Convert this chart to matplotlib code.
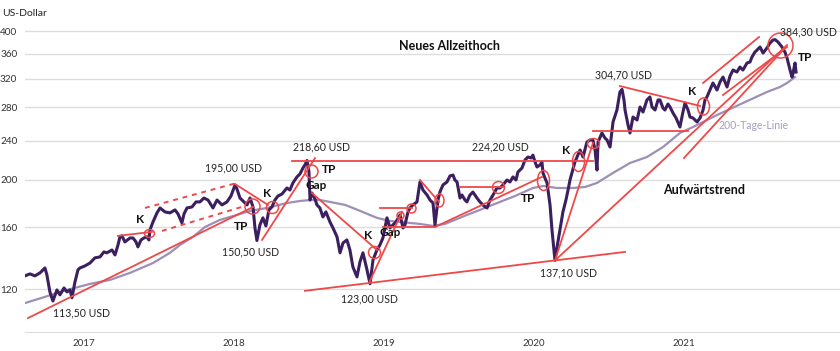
import matplotlib.pyplot as plt
from matplotlib.path import Path
from matplotlib.transforms import Affine2D
from matplotlib.ticker import NullLocator, FixedFormatter

plt.rcParams['font.family'] = ['Lato', 'DejaVu Sans']

# price (decimal year, USD)
price_t = [2016.607, 2016.64, 2016.673, 2016.707, 2016.74, 2016.753, 2016.773, 2016.793, 2016.82, 2016.84,
           2016.867, 2016.887, 2016.907, 2016.92, 2016.94, 2016.96, 2016.973, 2017.007, 2017.04, 2017.073,
           2017.107, 2017.133, 2017.153, 2017.187, 2017.207, 2017.227, 2017.24, 2017.253, 2017.273, 2017.307,
           2017.327, 2017.347, 2017.36, 2017.38, 2017.4, 2017.42, 2017.433, 2017.44, 2017.46, 2017.487,
           2017.507, 2017.54, 2017.573, 2017.607, 2017.627, 2017.653, 2017.667, 2017.687, 2017.72, 2017.747,
           2017.773, 2017.8, 2017.827, 2017.847, 2017.86, 2017.887, 2017.92, 2017.953, 2017.98, 2018.007,
           2018.02, 2018.04, 2018.067, 2018.087, 2018.107, 2018.127, 2018.14, 2018.153, 2018.173, 2018.193,
           2018.213, 2018.233, 2018.253, 2018.273, 2018.293, 2018.32, 2018.353, 2018.373, 2018.393, 2018.42,
           2018.44, 2018.46, 2018.473, 2018.487, 2018.5, 2018.507, 2018.52, 2018.54, 2018.553, 2018.573,
           2018.593, 2018.613, 2018.64, 2018.66, 2018.687, 2018.707, 2018.727, 2018.753, 2018.773, 2018.793,
           2018.82, 2018.84, 2018.86, 2018.887, 2018.907, 2018.927, 2018.953, 2018.973, 2018.993, 2019.02,
           2019.04, 2019.06, 2019.08, 2019.107, 2019.127, 2019.14, 2019.16, 2019.173, 2019.193, 2019.22,
           2019.24, 2019.26, 2019.287, 2019.307, 2019.327, 2019.34, 2019.36, 2019.373, 2019.393, 2019.42,
           2019.44, 2019.46, 2019.473, 2019.487, 2019.507, 2019.52, 2019.54, 2019.553, 2019.573, 2019.593,
           2019.62, 2019.64, 2019.667, 2019.687, 2019.707, 2019.727, 2019.753, 2019.773, 2019.793, 2019.82,
           2019.84, 2019.86, 2019.88, 2019.893, 2019.92, 2019.94, 2019.96, 2019.98, 2019.993, 2020.007,
           2020.02, 2020.04, 2020.053, 2020.06, 2020.073, 2020.087, 2020.107, 2020.12, 2020.133, 2020.14,
           2020.153, 2020.173, 2020.193, 2020.213, 2020.227, 2020.24, 2020.253, 2020.273, 2020.293, 2020.307,
           2020.327, 2020.353, 2020.373, 2020.393, 2020.407, 2020.42, 2020.427, 2020.453, 2020.473, 2020.487,
           2020.507, 2020.527, 2020.553, 2020.573, 2020.587, 2020.6, 2020.607, 2020.627, 2020.64, 2020.66,
           2020.687, 2020.707, 2020.727, 2020.753, 2020.773, 2020.787, 2020.807, 2020.827, 2020.84, 2020.86,
           2020.873, 2020.893, 2020.907, 2020.927, 2020.947, 2020.973, 2020.993, 2021.007, 2021.027, 2021.04,
           2021.06, 2021.087, 2021.107, 2021.127, 2021.14, 2021.153, 2021.173, 2021.193, 2021.22, 2021.24,
           2021.26, 2021.287, 2021.307, 2021.327, 2021.353, 2021.373, 2021.393, 2021.42, 2021.44, 2021.453,
           2021.473, 2021.487, 2021.507, 2021.527, 2021.553, 2021.573, 2021.593, 2021.607, 2021.627, 2021.653,
           2021.673, 2021.687, 2021.707, 2021.72, 2021.727, 2021.74, 2021.747]
price_v = [127.6, 128.8, 127.6, 129.4, 132.4, 128.2, 118.4, 113.5, 119.5, 116.8,
           120.6, 118.4, 119.5, 115.2, 124.0, 131.2, 132.4, 133.7, 135.5, 138.8,
           139.4, 142.7, 142.1, 144.0, 140.7, 147.4, 153.1, 153.8, 149.5, 152.3,
           152.3, 149.5, 146.1, 150.9, 152.3, 153.1, 150.9, 158.1, 164.1, 171.2,
           175.2, 172.0, 171.2, 173.6, 170.4, 163.4, 170.4, 175.2, 176.0, 180.2,
           180.2, 183.5, 181.8, 177.7, 175.2, 181.8, 177.7, 180.2, 185.2, 195.0,
           191.4, 183.5, 180.2, 177.7, 183.5, 176.0, 159.6, 150.5, 161.9, 167.3,
           161.1, 173.6, 176.0, 181.8, 185.2, 187.0, 192.3, 190.5, 196.9, 202.5,
           205.3, 211.1, 214.1, 218.6, 207.2, 181.8, 187.8, 182.7, 177.7, 175.2,
           168.0, 172.0, 164.1, 159.6, 153.1, 142.1, 148.8, 150.9, 144.0, 133.0,
           127.0, 136.2, 142.1, 131.2, 123.0, 137.5, 144.0, 147.4, 152.3, 167.3,
           159.6, 161.9, 164.1, 169.6, 159.6, 161.9, 172.0, 175.2, 177.7, 180.2,
           197.8, 190.5, 186.1, 181.8, 179.3, 161.9, 181.8, 188.7, 195.0, 197.8,
           203.4, 204.3, 199.6, 197.8, 183.5, 186.1, 181.8, 180.2, 186.1, 188.7,
           183.5, 180.2, 176.8, 175.2, 181.8, 186.1, 192.3, 192.3, 195.0, 199.6,
           197.8, 202.5, 199.6, 207.2, 211.1, 219.1, 222.2, 221.2, 224.2, 217.1,
           212.1, 214.1, 217.1, 206.3, 201.5, 196.9, 177.7, 158.1, 144.0, 137.1,
           145.4, 158.1, 172.0, 181.8, 190.5, 199.6, 206.3, 217.1, 224.3, 229.6,
           222.2, 238.3, 240.6, 240.6, 229.6, 209.1, 238.3, 248.6, 242.8, 240.6,
           232.8, 261.7, 276.7, 301.0, 304.7, 290.0, 276.7, 258.0, 248.6, 267.8,
           264.1, 280.6, 274.1, 290.0, 294.1, 280.6, 276.7, 290.0, 290.0, 279.3,
           276.7, 284.6, 280.6, 272.8, 266.6, 255.6, 274.1, 285.9, 276.7, 267.8,
           266.6, 261.7, 266.6, 276.7, 290.0, 294.1, 303.8, 313.9, 303.8, 315.3,
           322.7, 308.1, 324.3, 333.5, 330.4, 338.2, 333.5, 344.6, 346.2, 354.3,
           362.7, 366.1, 371.3, 361.0, 369.6, 378.2, 383.6, 384.3, 380.0, 371.3,
           362.7, 352.7, 333.5, 322.7, 328.8, 344.6, 330.4]

# 200-day line
ma_t = [2016.607, 2016.74, 2016.887, 2017.04, 2017.173, 2017.307, 2017.46, 2017.573, 2017.64, 2017.727,
        2017.807, 2017.907, 2018.02, 2018.107, 2018.22, 2018.353, 2018.44, 2018.507, 2018.573, 2018.64,
        2018.74, 2018.793, 2018.873, 2018.953, 2019.04, 2019.107, 2019.24, 2019.327, 2019.407, 2019.473,
        2019.553, 2019.64, 2019.773, 2019.873, 2019.993, 2020.06, 2020.153, 2020.26, 2020.34, 2020.42,
        2020.527, 2020.64, 2020.753, 2020.86, 2020.973, 2021.06, 2021.22, 2021.393, 2021.553, 2021.64,
        2021.687, 2021.74]
ma_v = [112.4, 115.7, 119.5, 122.9, 125.2, 129.4, 135.5, 142.1, 147.4, 153.1,
        160.3, 165.7, 169.6, 172.8, 175.2, 179.3, 181.0, 181.8, 181.8, 180.2,
        177.7, 175.2, 171.2, 167.3, 164.9, 164.1, 162.6, 161.1, 162.6, 165.7,
        169.6, 173.6, 180.2, 185.2, 192.3, 194.1, 192.3, 192.3, 193.2, 196.9,
        206.3, 216.1, 222.2, 232.8, 248.6, 255.6, 270.3, 285.9, 301.0, 308.1,
        313.9, 322.7]

year_ticks = [2017, 2018, 2019, 2020, 2021]
price_ticks = [120, 160, 200, 240, 280, 320, 360, 400]

# trend lines (t0, v0, t1, v1)
trend_lines = [
    (2016.627, 104.8, 2018.127, 176.0),
    (2017.227, 153.8, 2017.453, 156.7),
    (2018.007, 195.9, 2018.227, 177.7),
    (2018.187, 150.9, 2018.54, 221.0),
    (2018.387, 218.6, 2020.393, 218.6),
    (2018.52, 187.8, 2018.953, 144.0),
    (2018.9, 123.4, 2019.12, 172.0),
    (2018.973, 175.2, 2019.187, 175.2),
    (2018.993, 160.3, 2019.34, 160.3),
    (2019.24, 199.6, 2019.367, 180.2),
    (2019.34, 160.3, 2020.053, 202.5),
    (2019.507, 193.2, 2019.793, 193.2),
    (2018.473, 119.0, 2020.607, 142.7),
    (2020.14, 137.1, 2020.393, 237.2),
    (2020.14, 137.1, 2021.687, 374.7),
    (2021.0, 221.2, 2021.66, 366.1),
    (2020.573, 309.5, 2021.107, 282.0),
    (2020.393, 250.5, 2021.027, 250.5),
    (2021.127, 313.9, 2021.5, 389.0),
    (2021.26, 296.8, 2021.687, 371.3),
]
dashed_lines = [
    (2017.407, 175.2, 2018.02, 196.9),
    (2017.52, 157.4, 2018.073, 176.8),
]
# circles: t, v, width px, height px
circles = [
    (2017.433, 156.0, 10, 8), (2018.12, 176.8, 15, 15), (2018.253, 176.0, 12, 12),
    (2018.513, 208.2, 13, 13), (2018.933, 142.7, 12, 12), (2019.107, 169.6, 7, 7),
    (2019.18, 175.2, 9, 9), (2019.367, 181.8, 9, 13), (2019.76, 193.2, 12, 12),
    (2020.06, 199.6, 12, 20), (2020.293, 218.6, 12, 20), (2020.393, 237.2, 12, 10),
    (2021.127, 282.0, 12, 17), (2021.64, 374.7, 25, 25),
]

red = '#ef4848'
fig = plt.figure(figsize=(8.4, 3.51), dpi=100)
ax = fig.add_axes([25 / 840, 19 / 351, 815 / 840, 322 / 351])

ax.plot(ma_t, ma_v, color='#9d8fb6', lw=1.6, zorder=2)
ax.plot(price_t, price_v, color='#3b1f5e', lw=2.2, solid_joinstyle='round', zorder=3)

for t0, v0, t1, v1 in trend_lines:
    ax.plot([t0, t1], [v0, v1], color=red, lw=1.3, zorder=4)
for t0, v0, t1, v1 in dashed_lines:
    ax.plot([t0, t1], [v0, v1], color=red, lw=1.4, ls=(0, (2.5, 2.5)), zorder=4)
for t, v, w, h in circles:
    marker = Affine2D().scale(w, h).transform_path(Path.unit_circle())
    ax.plot(t, v, marker=marker, ms=max(w, h) * 0.72, mfc='none', mec=red, mew=1.1, zorder=5)

ax.set_yscale('log')
ax.set_ylim(98.2, 441.3)
ax.set_xlim(2016.607, 2022.04)
ax.set_yticks(price_ticks)
ax.yaxis.set_minor_locator(NullLocator())
ax.yaxis.set_major_formatter(FixedFormatter([str(p) for p in price_ticks]))
ax.set_xticks(year_ticks)
ax.set_xticklabels([str(y) for y in year_ticks])
ax.grid(axis='y', color='#dddddd', lw=1, zorder=0)
for s in ['top', 'right', 'left']:
    ax.spines[s].set_visible(False)
ax.spines['bottom'].set_color('#dddddd')
ax.tick_params(axis='both', length=0, labelsize=7, colors='#333333')
ax.tick_params(axis='y', pad=5.5, labelsize=7.2)
ax.tick_params(axis='x', pad=5)

fig.text(2 / 840, 1 - 13 / 351, 'US-Dollar', fontsize=7.5, va='center', color='#222222')

bold = dict(fontsize=8.5, fontweight='bold', ha='center', va='center', color='#111111', zorder=6)
plain = dict(fontsize=7.6, ha='left', va='center', color='#222222', zorder=6)
ax.text(2019.44, 373.0, 'Neues Allzeithoch', **{**bold, 'fontsize': 9})
ax.text(2021.133, 190.5, 'Aufwärtstrend', **{**bold, 'fontsize': 9})
ax.text(2021.64, 398.1, '384,30 USD', **plain)
ax.text(2020.407, 325.8, '304,70 USD', **plain)
ax.text(2019.587, 232.8, '224,20 USD', **plain)
ax.text(2018.393, 232.8, '218,60 USD', **plain)
ax.text(2017.807, 211.1, '195,00 USD', **plain)
ax.text(2017.92, 142.7, '150,50 USD', **plain)
ax.text(2020.04, 129.4, '137,10 USD', **plain)
ax.text(2018.713, 114.6, '123,00 USD', **plain)
ax.text(2016.793, 107.3, '113,50 USD', **plain)
ax.text(2021.227, 256.9, '200-Tage-Linie', **{**plain, 'color': '#a99cc4'})
for t, v, s in [(2021.807, 354.3, 'TP'), (2021.053, 301.0, 'K'), (2020.213, 229.6, 'K'),
                (2018.633, 210.1, 'TP'), (2018.547, 194.1, 'Gap'), (2019.96, 182.7, 'TP'),
                (2017.373, 165.7, 'K'), (2018.22, 187.8, 'K'), (2018.047, 160.3, 'TP'),
                (2018.893, 153.8, 'K'), (2019.04, 155.9, 'Gap')]:
    ax.text(t, v, s, **bold)

fig.savefig('out.png', dpi=100)
